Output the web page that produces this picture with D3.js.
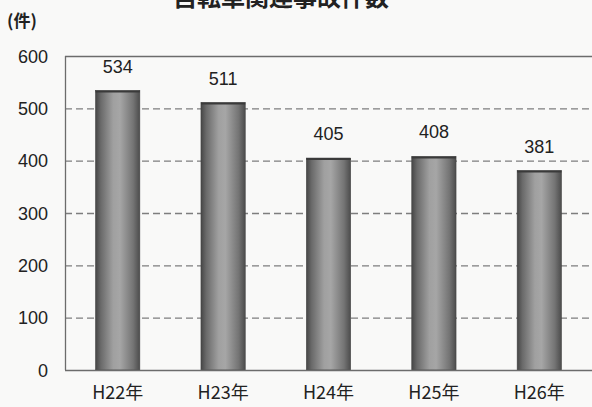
<!DOCTYPE html>
<html>
<head>
<meta charset="utf-8">
<script src="https://cdn.jsdelivr.net/npm/d3@7"></script>
<style>
  html, body { margin: 0; padding: 0; background: #f9f9f8; }
  svg { display: block; }
  text { font-family: "Liberation Sans", Arial, "Noto Sans CJK JP", sans-serif; fill: #222; }
</style>
</head>
<body>
<svg id="chart" width="592" height="407"></svg>
<script>
// 自転車関連事故件数（年別）
const categories = ["H22年", "H23年", "H24年", "H25年", "H26年"];
const counts = [534, 511, 405, 408, 381];
const yTicks = [0, 100, 200, 300, 400, 500, 600];
const titleText = "自転車関連事故件数";
const unitText = "(件)";

const W = 592, H = 407;
const margin = { left: 65, right: 0, top: 56, bottom: 37 };

const svg = d3.select("#chart");

// cylinder-like shading across each bar
const defs = svg.append("defs");
const grad = defs.append("linearGradient").attr("id", "barShade")
  .attr("x1", "0%").attr("x2", "100%").attr("y1", "0%").attr("y2", "0%");
[["0%", "#464646"], ["12%", "#6a6a6a"], ["40%", "#a0a0a0"], ["55%", "#a6a6a6"], ["85%", "#747474"], ["100%", "#4c4c4c"]]
  .forEach(([o, c]) => grad.append("stop").attr("offset", o).attr("stop-color", c));

const x = d3.scaleBand().domain(categories)
  .range([margin.left, W - margin.right]).paddingInner(0.58).paddingOuter(0.29);
const y = d3.scaleLinear().domain([0, 600]).range([H - margin.bottom, margin.top]);

// title (top of the page, partially clipped)
svg.append("text").attr("x", 281).attr("y", 6)
  .attr("text-anchor", "middle").style("font-size", "24px").style("font-weight", "bold")
  .style("font-family", "'Noto Sans CJK JP', sans-serif")
  .text(titleText);

// unit label
svg.append("text").attr("x", 7).attr("y", 27)
  .style("font-size", "17px").style("font-weight", "bold")
  .style("font-family", "'Noto Sans CJK JP', sans-serif")
  .text(unitText);

// dashed gridlines
svg.append("g").selectAll("line").data(yTicks.filter(t => t > 0 && t < 600)).join("line")
  .attr("x1", margin.left).attr("x2", W - margin.right)
  .attr("y1", d => y(d) + 0.5).attr("y2", d => y(d) + 0.5)
  .attr("stroke", "#7e7e7e").attr("stroke-width", 1.4).attr("stroke-dasharray", "7,4");

// frame: top and left
svg.append("line").attr("x1", margin.left).attr("x2", W).attr("y1", y(600) + 0.5).attr("y2", y(600) + 0.5)
  .attr("stroke", "#6c6c6c").attr("stroke-width", 1.3);
svg.append("line").attr("x1", margin.left + 0.5).attr("x2", margin.left + 0.5).attr("y1", y(600)).attr("y2", y(0))
  .attr("stroke", "#6c6c6c").attr("stroke-width", 1.3);

// y axis labels
const yAxis = d3.axisLeft(y).tickValues(yTicks).tickSize(0).tickPadding(17);
const gy = svg.append("g").attr("transform", `translate(${margin.left},0)`).call(yAxis);
gy.select(".domain").remove();
gy.selectAll("text").style("font-size", "18px").attr("fill", "#222").attr("dy", "0.35em");

// bars
const bars = svg.append("g");
bars.selectAll("rect").data(counts).join("rect")
  .attr("x", (d, i) => x(categories[i]))
  .attr("y", d => y(d))
  .attr("width", x.bandwidth())
  .attr("height", d => y(0) - y(d))
  .attr("fill", "url(#barShade)")
  .attr("stroke", "#444").attr("stroke-width", 0.6);
bars.selectAll("line.cap").data(counts).join("line").attr("class", "cap")
  .attr("x1", (d, i) => x(categories[i]))
  .attr("x2", (d, i) => x(categories[i]) + x.bandwidth())
  .attr("y1", d => y(d) + 1).attr("y2", d => y(d) + 1)
  .attr("stroke", "#3a3a3a").attr("stroke-width", 2);

// value labels
svg.append("g").selectAll("text").data(counts).join("text")
  .attr("x", (d, i) => x(categories[i]) + x.bandwidth() / 2)
  .attr("y", d => y(d) - 18)
  .attr("text-anchor", "middle").style("font-size", "18px")
  .text(d => d);

// x axis
const xAxis = d3.axisBottom(x).tickSize(0).tickPadding(16);
const gx = svg.append("g").attr("transform", `translate(0,${y(0)})`).call(xAxis);
gx.select(".domain").attr("stroke", "#6c6c6c").attr("stroke-width", 1.5).attr("d", `M${margin.left},0.5H${W}`);
gx.selectAll("text").style("font-size", "18px").attr("fill", "#222")
  .style("font-family", "'Noto Sans CJK JP', 'Liberation Sans', sans-serif");
</script>
</body>
</html>
